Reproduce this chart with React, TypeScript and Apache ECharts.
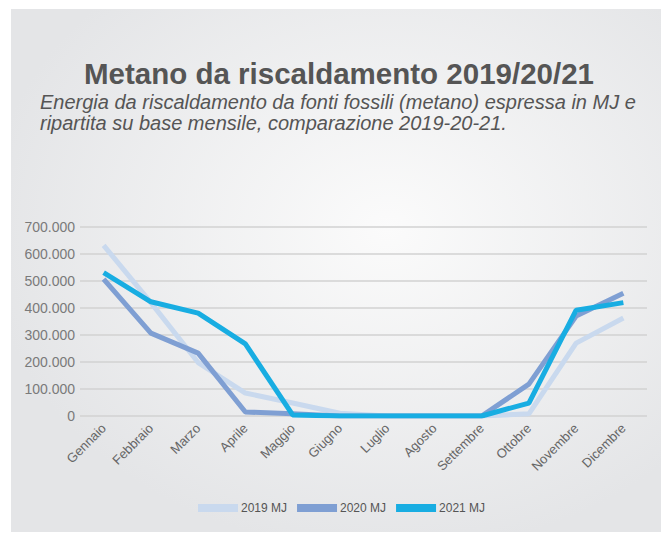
import React, { useEffect, useRef } from "react";
import * as echarts from "echarts";

const months = [
  "Gennaio", "Febbraio", "Marzo", "Aprile", "Maggio", "Giugno",
  "Luglio", "Agosto", "Settembre", "Ottobre", "Novembre", "Dicembre",
];
const data2019 = [632000, 420000, 198000, 85000, 48000, 10000, 0, 0, 0, 8000, 270000, 363000];
const data2020 = [507000, 307000, 233000, 15000, 8000, 0, 0, 0, 0, 118000, 370000, 455000];
const data2021 = [531000, 423000, 381000, 267000, 4000, 0, 0, 0, 0, 48000, 392000, 420000];
const seriesNames = ["2019 MJ", "2020 MJ", "2021 MJ"];
const seriesColors = ["#c9d9ee", "#7f9fd3", "#18ade2"];

const titleText = "Metano da riscaldamento 2019/20/21";
const subtitleText =
  "Energia da riscaldamento da fonti fossili (metano) espressa in MJ e\nripartita su base mensile, comparazione 2019-20-21.";

const fmt = (v: number) => String(v).replace(/\B(?=(\d{3})+(?!\d))/g, ".");

export default function App() {
  const ref = useRef<HTMLDivElement>(null);
  useEffect(() => {
    if (!ref.current) return;
    const chart = echarts.init(ref.current, undefined, { renderer: "svg" });
    const font = "'Liberation Sans', Arial, Helvetica, sans-serif";
    const allData = [data2019, data2020, data2021];
    chart.setOption({
      animation: false,
      backgroundColor: "#ffffff",
      textStyle: { fontFamily: font },
      graphic: [
        {
          type: "rect",
          silent: true,
          z: -10,
          shape: { x: 11, y: 9, width: 650, height: 523 },
          style: {
            fill: new echarts.graphic.RadialGradient(0.58, 0.42, 0.62, [
              { offset: 0, color: "#fbfbfb" },
              { offset: 1, color: "#e4e5e7" },
            ]),
          },
        },
      ],
      title: [
        {
          text: titleText,
          left: 334,
          textAlign: "center",
          top: 53,
          textStyle: { fontFamily: font, fontSize: 29.5, fontWeight: "bold", color: "#555555" },
        },
        {
          text: subtitleText,
          left: 35,
          top: 86,
          textStyle: {
            fontFamily: font,
            fontSize: 20,
            fontStyle: "italic",
            fontWeight: "normal",
            color: "#555555",
            lineHeight: 21,
          },
        },
      ],
      legend: {
        bottom: 14,
        left: 193,
        itemWidth: 40,
        itemHeight: 8,
        itemGap: 10,
        icon: "rect",
        data: seriesNames,
        textStyle: { fontFamily: font, fontSize: 12, color: "#555555", padding: [0, 0, 0, -2] },
      },
      grid: { left: 80, right: 14, top: 227, bottom: 117, containLabel: false },
      xAxis: {
        type: "category",
        data: months,
        boundaryGap: true,
        axisLine: { show: false },
        axisTick: { show: false },
        axisLabel: {
          rotate: 45,
          interval: 0,
          margin: 10,
          fontSize: 13,
          color: "#666666",
          fontFamily: font,
        },
      },
      yAxis: {
        type: "value",
        min: 0,
        max: 700000,
        interval: 100000,
        axisLine: { show: false },
        axisTick: { show: false },
        splitLine: { lineStyle: { color: "#d2d2d2", width: 1.5 } },
        axisLabel: {
          formatter: (v: number) => fmt(v),
          fontSize: 14,
          color: "#7a7a7a",
          margin: 5,
          fontFamily: font,
        },
      },
      series: seriesNames.map((name, i) => ({
        name,
        type: "line",
        data: allData[i],
        symbol: "none",
        smooth: false,
        lineStyle: { color: seriesColors[i], width: 5 },
        itemStyle: { color: seriesColors[i] },
        z: 2 + i,
      })),
    });
    return () => chart.dispose();
  }, []);
  return (
    <div
      ref={ref}
      style={{ position: "fixed", left: 0, top: 0, width: 661, height: 533 }}
    />
  );
}
